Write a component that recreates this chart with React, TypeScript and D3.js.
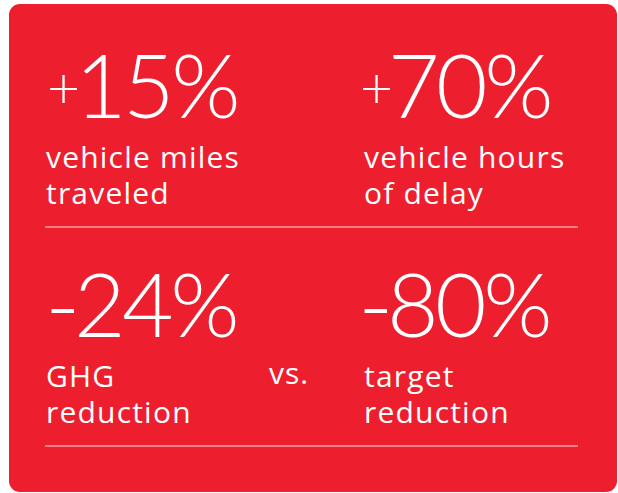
import React from "react";
import * as d3 from "d3";

const values: string[] = ["+15%", "+70%", "-24%", "-80%"];
const labelLine1: string[] = ["vehicle miles", "vehicle hours", "GHG", "target"];
const labelLine2: string[] = ["traveled", "of delay", "reduction", "reduction"];
const connector: string[] = ["", "", "vs.", ""];

const W = 618;
const H = 493;

export default function App() {
  const colBig = d3.scaleOrdinal<number, number>().domain([0, 1]).range([48, 361]);
  const colLab = d3.scaleOrdinal<number, number>().domain([0, 1]).range([46, 364]);
  const row = d3.scaleOrdinal<number, number>().domain([0, 1]).range([118, 337]);
  const bigFont = "Lato, sans-serif";
  const font = "'Open Sans', sans-serif";
  return (
    <svg
      width={W}
      height={H}
      style={{ position: "absolute", left: 0, top: 0 }}
    >
      <rect x={9} y={4} width={608} height={488} rx={11} ry={11} fill="#ED1F2E" />
      {values.map((v, i) => {
        const c = i % 2;
        const r = Math.floor(i / 2);
        const y = row(r);
        const xb = colBig(c);
        const xl = colLab(c);
        const sign = v[0];
        const rest = v.slice(1);
        const plus = sign === "+";
        return (
          <g key={i} fill="#fff">
            <text y={y} fontFamily={bigFont} fontWeight={300}>
              <tspan
                x={plus ? xb - 1 : xb - 3}
                dy={plus ? -10 : 3}
                fontSize={plus ? 57 : 96}
              >
                {sign}
              </tspan>
              <tspan
                x={xb + (plus ? 27 : 26)}
                dy={plus ? 10 : -3}
                fontSize={89}
                letterSpacing={-3.5}
              >
                {rest}
              </tspan>
            </text>
            <text x={xl} y={y + 50} fontFamily={font} fontSize={30} fontWeight={400} letterSpacing={1.2}>
              {labelLine1[i]}
            </text>
            <text x={xl} y={y + 86} fontFamily={font} fontSize={30} fontWeight={400} letterSpacing={1.2}>
              {labelLine2[i]}
            </text>
            {connector[i] && (
              <text x={269} y={y + 47} fontFamily={font} fontSize={30} fontWeight={400} letterSpacing={1}>
                {connector[i]}
              </text>
            )}
          </g>
        );
      })}
      {[0, 1].map((r) => (
        <line
          key={r}
          x1={45}
          x2={578}
          y1={row(r) + 109}
          y2={row(r) + 109}
          stroke="#fff"
          strokeOpacity={0.85}
          strokeWidth={1.2}
        />
      ))}
    </svg>
  );
}
